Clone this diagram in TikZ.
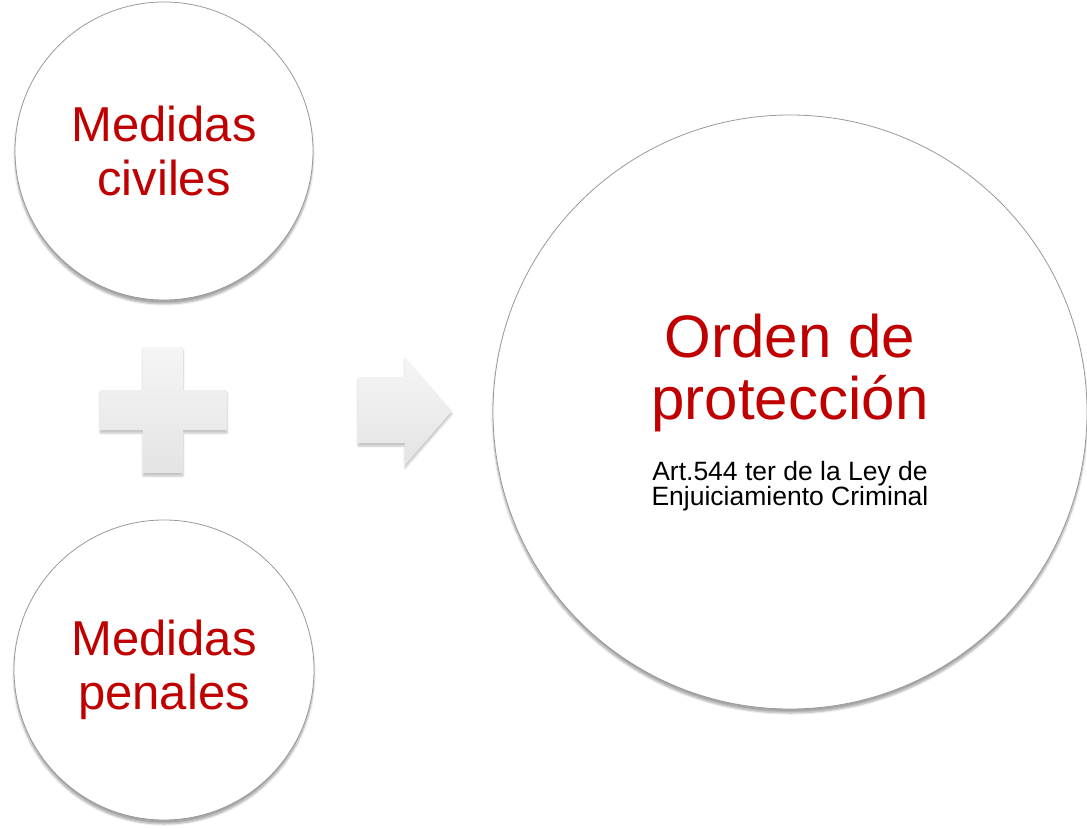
\documentclass[tikz,border=0pt]{standalone}
\usepackage{fontspec}
\setmainfont{Liberation Sans}
\usepackage{tikz}
\usetikzlibrary{shadows.blur}
\definecolor{medred}{HTML}{C00000}
\definecolor{symtop}{HTML}{F5F5F5}
\definecolor{symbot}{HTML}{E4E4E4}

\begin{document}
\begin{tikzpicture}[x=1pt,y=-1pt,
    bubble/.style={circle,draw=gray!80,line width=0.8pt,fill=white,
        blur shadow={shadow xshift=0pt,shadow yshift=-4pt,shadow opacity=35,shadow blur steps=6}},
    medtext/.style={text=medred,align=center,font=\fontsize{49}{54}\selectfont},
    symbol/.style={top color=symtop,bottom color=symbot,draw=none,
        blur shadow={shadow xshift=0pt,shadow yshift=-3pt,shadow opacity=25,shadow blur steps=5}}]
\useasboundingbox (0,0) rectangle (1087,829);

% Two small circles on the left
\node[bubble,minimum size=298pt,medtext] (civ) at (164,151) {Medidas\\civiles};
\node[bubble,minimum size=300pt,medtext] (pen) at (164,670) {Medidas\\penales};

% Plus sign
\path[symbol] (143,347) -- (183,347) -- (183,390) -- (227,390) -- (227,430) -- (183,430)
    -- (183,473) -- (143,473) -- (143,430) -- (100,430) -- (100,390) -- (143,390) -- cycle;

% Arrow
\path[symbol] (358,377) -- (405,377) -- (405,357) -- (452,411) -- (405,465) -- (405,443)
    -- (358,443) -- cycle;

% Big circle with the result
\node[bubble,minimum size=594pt] (orden) at (790,412) {};
\node[text=medred,align=center,font=\fontsize{60}{62}\selectfont] (ordtit) at (790,373) {Orden de\\protección};
\node[align=center,font=\fontsize{26.5}{24}\selectfont] (ordart) at (790,486) {Art.544 ter de la Ley de\\Enjuiciamiento Criminal};
\end{tikzpicture}
\end{document}
